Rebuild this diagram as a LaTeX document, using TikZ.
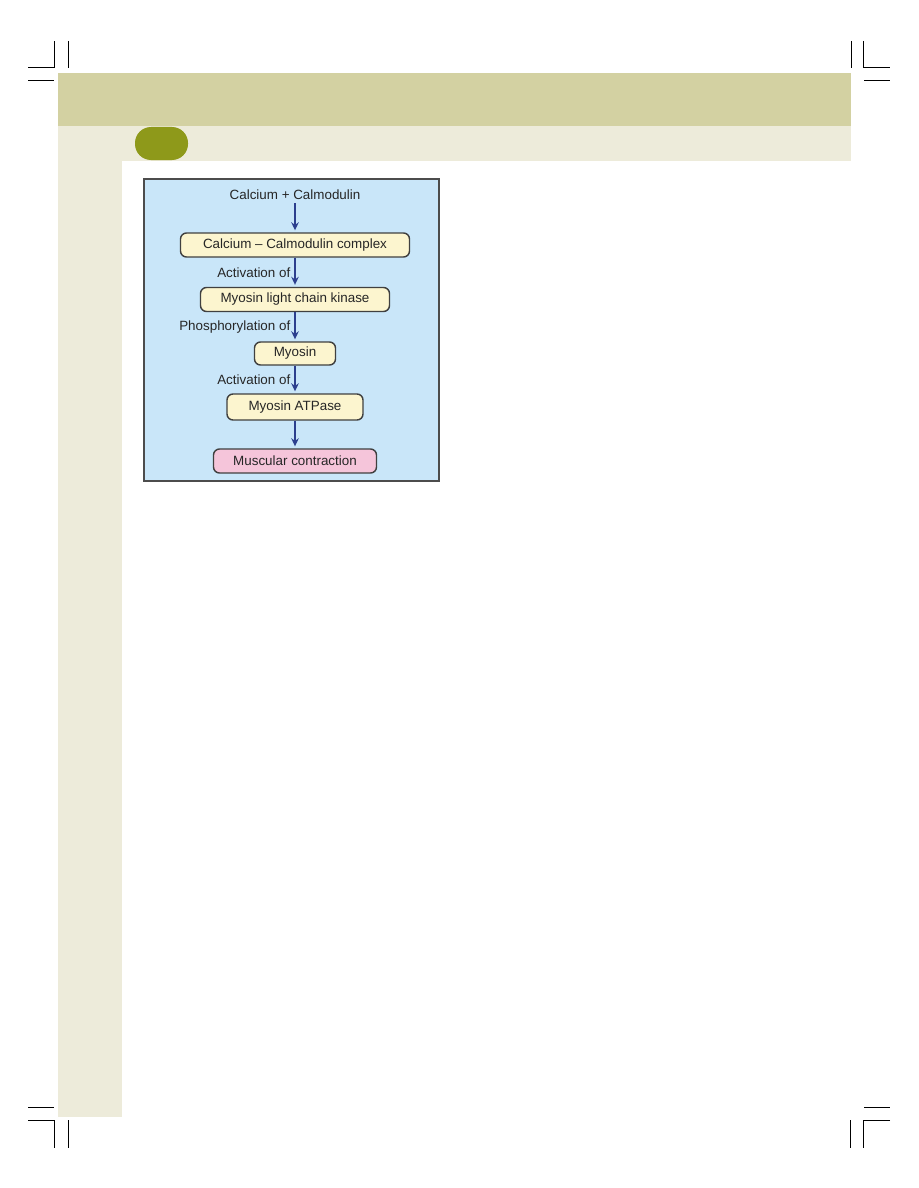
\documentclass[tikz,border=0pt]{standalone}
\usepackage{fontspec}
\setmainfont{Liberation Sans}
\usetikzlibrary{arrows.meta, positioning}
\definecolor{bandolive}{HTML}{D3D1A2}
\definecolor{bandlight}{HTML}{EDEBDA}
\definecolor{tabolive}{HTML}{8E991A}
\definecolor{panelblue}{HTML}{C9E6F9}
\definecolor{boxyellow}{HTML}{FCF5CF}
\definecolor{boxpink}{HTML}{F5C5DA}
\definecolor{arrowblue}{HTML}{2C3F8E}
\newcommand{\pathfont}{\fontsize{13.4}{16}\selectfont}
\tikzset{
  stepbox/.style={
    draw=black!75, rounded corners=6pt,
    fill=boxyellow, line width=1.4pt,
    minimum height=24pt, inner sep=0pt,
    font=\pathfont, text=black!85
  },
  endbox/.style={
    stepbox, fill=boxpink
  },
  flow arrow/.style={
    -{Stealth[length=8pt, width=7.5pt]}, line width=1.4pt,
    draw=arrowblue, shorten >=2pt
  },
  flow label/.style={
    left, font=\pathfont, text=black!85, inner sep=4pt
  },
  crop/.style={
    line width=1pt, black
  },
}

\begin{document}
\begin{tikzpicture}[x=1pt, y=-1pt]

  \useasboundingbox (0,0) rectangle (918,1188);

  % Page bands
  \fill[bandolive] (58,73) rectangle (851,126);
  \fill[bandlight] (58,126) rectangle (851,161);
  \fill[bandlight] (58,161) rectangle (122,1117);
  \fill[tabolive, rounded corners=16pt] (135,127) rectangle (188,160);

  % Crop marks
  \draw[crop] (28,68) -- (54,68) -- (54,41);
  \draw[crop] (68,41) -- (68,68);
  \draw[crop] (28,81) -- (54,81);
  \draw[crop] (851,41) -- (851,68);
  \draw[crop] (863,41) -- (863,68) -- (890,68);
  \draw[crop] (864,81) -- (890,81);
  \draw[crop] (28,1107) -- (54,1107);
  \draw[crop] (28,1120) -- (54,1120) -- (54,1148);
  \draw[crop] (68,1120) -- (68,1148);
  \draw[crop] (864,1107) -- (890,1107);
  \draw[crop] (850,1120) -- (850,1148);
  \draw[crop] (890,1120) -- (863,1120) -- (863,1148);

  % Panel
  \draw[fill=panelblue, draw=black!70, line width=1.4pt] (144,179) rectangle (439,481);

  % Steps
  \node[font=\pathfont, text=black!85] (calc) at (295,195) {Calcium + Calmodulin};
  \node[stepbox, minimum width=229pt] (cplx) at (295,245) {Calcium – Calmodulin complex};
  \node[stepbox, minimum width=189pt] (mlck) at (295,299.5) {Myosin light chain kinase};
  \node[stepbox, minimum width=81pt, minimum height=23pt] (myo) at (295,353.5) {Myosin};
  \node[stepbox, minimum width=136pt, minimum height=26pt] (atp) at (295,407) {Myosin ATPase};
  \node[endbox, minimum width=163pt] (contr) at (295,461) {Muscular contraction};

  % Arrows
  \draw[flow arrow] (calc) -- (cplx);
  \draw[flow arrow] (cplx) -- (mlck)
    node[flow label, midway] {Activation of};
  \draw[flow arrow] (mlck) -- (myo)
    node[flow label, midway] {Phosphorylation of};
  \draw[flow arrow] (myo) -- (atp)
    node[flow label, midway] {Activation of};
  \draw[flow arrow] (atp) -- (contr);

\end{tikzpicture}
\end{document}
